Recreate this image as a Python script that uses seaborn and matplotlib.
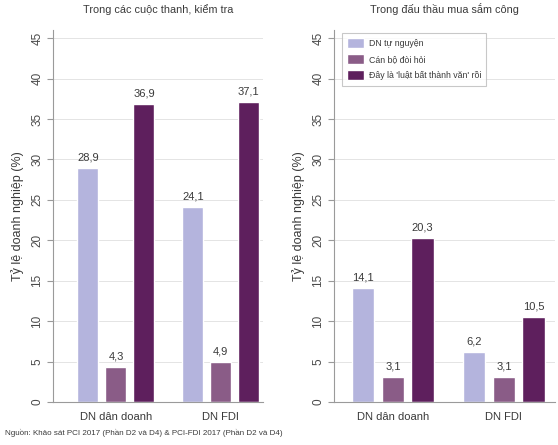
import matplotlib
matplotlib.use("Agg")
import matplotlib.pyplot as plt
import seaborn as sns
import pandas as pd

# categories and series
groups = ["DN dân doanh", "DN FDI"]
series = ["DN tự nguyện", "Cán bộ đòi hỏi", "Đây là 'luật bất thành văn' rồi"]
colors = ["#b4b4dd", "#8a5c87", "#5e1f5d"]

# values (%) per panel, one list per series
inspect_vals = [[28.9, 24.1], [4.3, 4.9], [36.9, 37.1]]
procure_vals = [[14.1, 6.2], [3.1, 3.1], [20.3, 10.5]]

titles = ["Trong các cuộc thanh, kiểm tra", "Trong đấu thầu mua sắm công"]
ylabel = "Tỷ lệ doanh nghiệp (%)"
source = "Nguồn: Khảo sát PCI 2017 (Phần D2 và D4) & PCI-FDI 2017 (Phần D2 và D4)"


def to_frame(vals):
    rows = []
    for s, vs in zip(series, vals):
        for g, v in zip(groups, vs):
            rows.append({"group": g, "series": s, "value": v})
    return pd.DataFrame(rows)


sns.set_theme(style="white")
plt.rcParams["font.family"] = ["Liberation Sans", "DejaVu Sans"]
txt = "#3a3a3a"
spine_c = "#9a9a9a"

fig = plt.figure(figsize=(5.58, 4.45), dpi=100)
ax1 = fig.add_axes([0.095, 0.0966, 0.376, 0.836])
ax2 = fig.add_axes([0.5986, 0.0966, 0.396, 0.836])

for ax, vals, title, xlim in [(ax1, inspect_vals, titles[0], (-0.6, 1.4)),
                              (ax2, procure_vals, titles[1], (-0.53, 1.46))]:
    df = to_frame(vals)
    sns.barplot(data=df, x="group", y="value", hue="series", hue_order=series,
                order=groups, palette=colors, saturation=1, width=0.8, gap=0.25,
                ax=ax, legend=(ax is ax2))
    for cont in ax.containers:
        labels = [f"{b.get_height():.1f}".replace(".", ",") for b in cont]
        ax.bar_label(cont, labels=labels, padding=4, fontsize=8, color=txt)
    ax.set_xlim(*xlim)
    ax.set_ylim(0, 46)
    ax.set_yticks(range(0, 50, 5))
    ax.yaxis.grid(True, color="#e4e4e4", linewidth=0.7)
    ax.set_axisbelow(True)
    for s in ["top", "right"]:
        ax.spines[s].set_visible(False)
    for s in ["left", "bottom"]:
        ax.spines[s].set_color(spine_c)
        ax.spines[s].set_linewidth(0.8)
    ax.tick_params(axis="y", left=True, length=4, width=0.8, color=spine_c,
                   labelsize=8.5, labelcolor="#4a4a4a", pad=3)
    ax.tick_params(axis="x", bottom=False, labelsize=8, labelcolor=txt, pad=1)
    for lbl in ax.get_yticklabels():
        lbl.set_rotation(90)
        lbl.set_va("center")
    ax.set_xlabel("")
    ax.set_ylabel(ylabel, fontsize=9, color=txt, labelpad=5)
    ax.set_title(title, fontsize=7.8, color=txt, pad=12)

leg = ax2.legend(loc="upper left", bbox_to_anchor=(0.015, 1.005), fontsize=6.3,
                 frameon=True, fancybox=False, edgecolor="#bbbbbb",
                 handlelength=1.9, handleheight=1.5, labelspacing=0.6,
                 borderpad=0.6, handletextpad=0.6, title=None)
leg.get_frame().set_linewidth(0.8)
for t in leg.get_texts():
    t.set_color(txt)

fig.text(0.009, 0.027, source, fontsize=5.8, color=txt, ha="left", va="center")

fig.savefig("out.png", dpi=100)
